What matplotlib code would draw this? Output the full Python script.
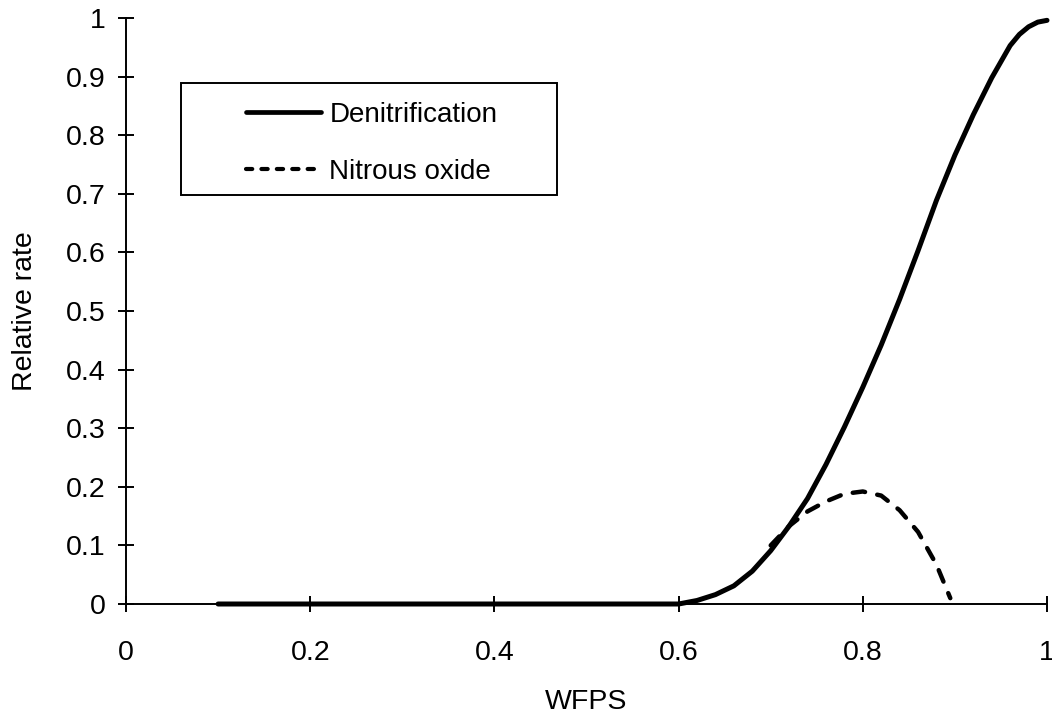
import matplotlib
matplotlib.use("Agg")
import matplotlib.pyplot as plt
from matplotlib.patches import Rectangle
from matplotlib.lines import Line2D

plt.rcParams['font.family'] = ['Liberation Sans', 'DejaVu Sans']

# Denitrification curve
wfps_den = [0.1, 0.2, 0.3, 0.4, 0.5, 0.6, 0.62, 0.64, 0.66, 0.68, 0.70, 0.72,
            0.74, 0.76, 0.78, 0.80, 0.82, 0.84, 0.86, 0.88, 0.90, 0.92, 0.94,
            0.96, 0.97, 0.98, 0.99, 1.0]
rate_den = [0, 0, 0, 0, 0, 0, 0.006, 0.016, 0.031, 0.056, 0.091, 0.133,
            0.18, 0.238, 0.302, 0.37, 0.442, 0.52, 0.603, 0.689, 0.766, 0.835, 0.898,
            0.953, 0.972, 0.985, 0.993, 0.996]

# Nitrous oxide curve
wfps_n2o = [0.70, 0.72, 0.74, 0.76, 0.78, 0.80, 0.82, 0.84, 0.86, 0.88, 0.895]
rate_n2o = [0.10, 0.133, 0.158, 0.175, 0.188, 0.192, 0.185, 0.160, 0.123, 0.067, 0.01]

labels = ['Denitrification', 'Nitrous oxide']
yticks = [0, 0.1, 0.2, 0.3, 0.4, 0.5, 0.6, 0.7, 0.8, 0.9, 1]
xticks = [0, 0.2, 0.4, 0.6, 0.8, 1]

fig = plt.figure(figsize=(10.52, 7.16), dpi=100)
ax = fig.add_axes([126 / 1052, 1 - 604 / 716, 921 / 1052, 586 / 716])

ax.plot(wfps_den, rate_den, color='black', lw=3.6, solid_capstyle='round',
        solid_joinstyle='round', clip_on=False)
ax.plot(wfps_n2o, rate_n2o, color='black', lw=3.2, dashes=(2.8, 2.8),
        dash_capstyle='round', clip_on=False)

ax.set_xlim(0, 1)
ax.set_ylim(0, 1)
ax.set_xticks(xticks)
ax.set_xticklabels(['%g' % t for t in xticks])
ax.set_yticks(yticks)
ax.set_yticklabels(['%g' % t for t in yticks])

for s in ['top', 'right']:
    ax.spines[s].set_visible(False)
for s in ['left', 'bottom']:
    ax.spines[s].set_linewidth(1.4)

ax.tick_params(axis='both', direction='inout', length=11.5, width=1.4,
               labelsize=20.5, colors='black')
ax.tick_params(axis='x', pad=20)
ax.tick_params(axis='y', pad=9)

ax.set_xlabel('WFPS', fontsize=20.5, labelpad=17)
ax.set_ylabel('Relative rate', fontsize=20.5, labelpad=20)

# legend handles (Excel draws the legend dashes shorter than the line's)
handles = [Line2D([], [], color='black', lw=3.4, solid_capstyle='round'),
           Line2D([], [], color='black', lw=3.0, dashes=(1.5, 2.2),
                  dash_capstyle='round')]
ax.legend(handles, labels, loc='upper left',
          bbox_to_anchor=(246 / 1052, 1 - 102 / 716),
          bbox_transform=fig.transFigure, frameon=False, fontsize=20,
          handlelength=2.7, handletextpad=0.3, labelspacing=1.1,
          borderpad=0, borderaxespad=0)

fig.patches.append(Rectangle((181 / 1052, 1 - 195 / 716), 376 / 1052, 112 / 716,
                             transform=fig.transFigure, fill=False,
                             edgecolor='black', lw=1.4))

fig.savefig('out.png', dpi=100)
